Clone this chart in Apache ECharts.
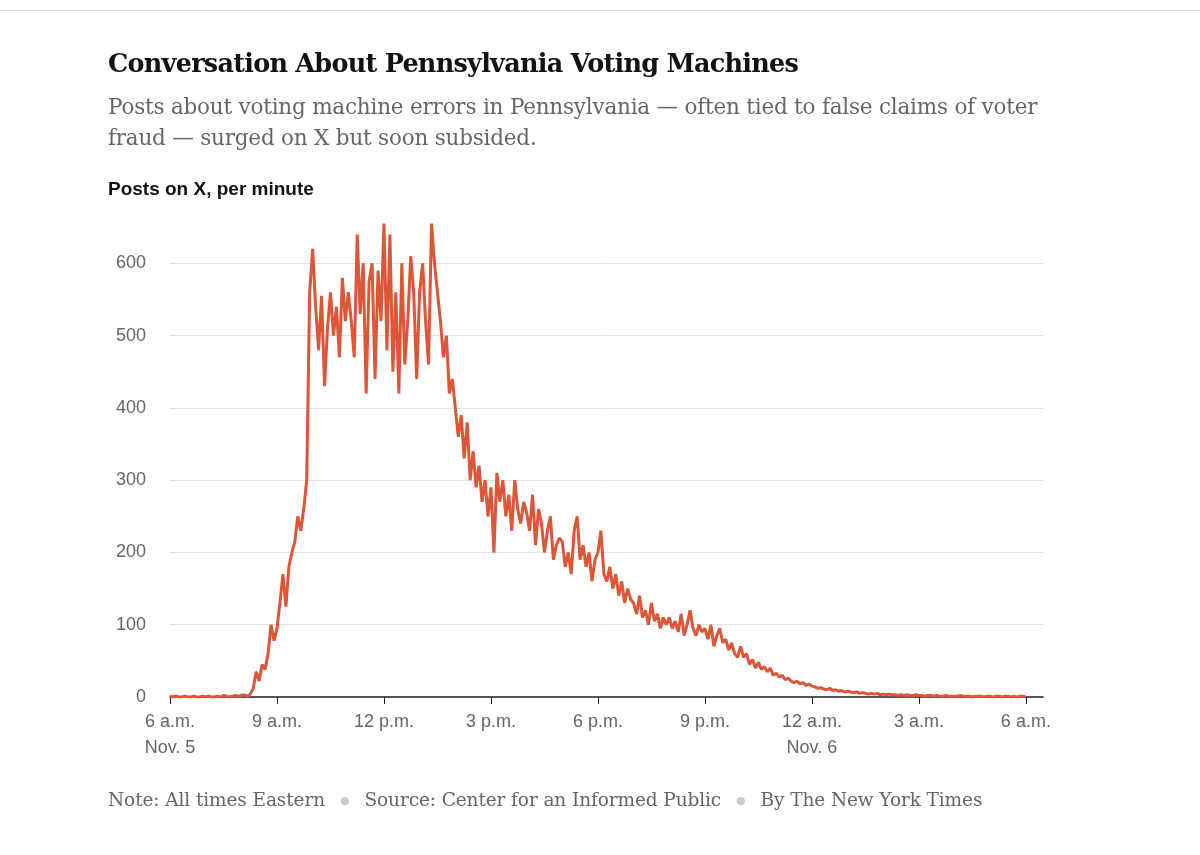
<!DOCTYPE html>
<html><head><meta charset="utf-8">
<script src="https://cdn.jsdelivr.net/npm/echarts@6/dist/echarts.min.js"></script>
<style>
body{margin:0;background:#fff;width:1200px;height:855px;position:relative;overflow:hidden}
#topline{position:absolute;left:0;top:10px;width:1200px;height:1px;background:#ddd}
#title{position:absolute;left:108px;top:48px;font:bold 25.5px "DejaVu Serif",serif;color:#121212;letter-spacing:-0.75px}
#sub{position:absolute;left:108px;top:91px;width:940px;font:21.5px "DejaVu Serif",serif;color:#666;line-height:31px;letter-spacing:-0.2px}
#ylab{position:absolute;left:108px;top:178px;font:bold 19px "Liberation Sans",Arial,sans-serif;color:#121212}
#foot{position:absolute;left:108px;top:789px;font:18.5px "DejaVu Serif",serif;color:#666;letter-spacing:-0.1px}
#foot .d{color:#ccc;margin:0 15px;font-size:11px;vertical-align:2px}
#c{position:absolute;left:0;top:0;width:1200px;height:855px}
</style></head><body>
<div id="topline"></div>
<div id="c"></div>
<div id="title">Conversation About Pennsylvania Voting Machines</div>
<div id="sub">Posts about voting machine errors in Pennsylvania — often tied to false claims of voter fraud — surged on X but soon subsided.</div>
<div id="ylab">Posts on X, per minute</div>
<div id="foot">Note: All times Eastern<span class="d">●</span>Source: Center for an Informed Public<span class="d">●</span>By The New York Times</div>
<script>
// posts per minute, sampled every 5 minutes, one row per hour starting 6 a.m. Nov. 5
const h06=[1,0,1,0,0,1,0,0,1,0,0,1];
const h07=[0,1,0,0,1,0,2,1,0,1,2,1];
const h08=[2,3,1,4,12,35,22,45,38,60,100,78];
const h09=[95,130,170,125,180,200,215,250,230,260,300,560];
const h10=[620,540,480,555,430,510,560,500,540,470,580,520];
const h11=[560,520,470,640,530,600,420,575,600,440,590,520];
const h12=[655,480,640,450,560,420,600,460,520,610,560,440];
const h13=[560,600,520,460,655,600,560,520,470,500,420,440];
const h14=[400,360,390,330,380,300,340,290,320,270,300,250];
const h15=[290,200,310,270,300,250,280,230,300,260,240,270];
const h16=[255,230,280,210,260,240,200,230,250,190,210,220];
const h17=[215,180,200,170,230,250,190,210,180,200,160,190];
const h18=[200,230,170,160,180,150,170,140,160,130,150,135];
const h19=[130,115,140,110,120,100,130,105,115,95,110,100];
const h20=[110,95,105,90,115,85,100,120,95,85,100,90];
const h21=[95,80,100,70,85,95,75,80,65,75,60,55];
const h22=[70,55,60,45,52,40,48,38,42,35,40,30];
const h23=[33,28,30,24,26,22,20,22,18,20,16,18];
const h00=[15,14,12,13,11,10,12,9,10,8,9,7];
const h01=[8,7,6,7,5,6,5,4,5,4,5,3];
const h02=[4,3,4,3,3,2,3,2,3,2,2,3];
const h03=[2,2,1,2,2,1,2,1,1,2,1,1];
const h04=[1,1,2,1,1,1,0,1,1,1,0,1];
const h05=[1,0,1,1,0,1,1,0,1,0,1,1,0];
const yTicks=[0,100,200,300,400,500,600];
const xTickLabels={0:'6 a.m.\nNov. 5',3:'9 a.m.',6:'12 p.m.',9:'3 p.m.',12:'6 p.m.',15:'9 p.m.',18:'12 a.m.\nNov. 6',21:'3 a.m.',24:'6 a.m.'};
const series=[].concat(h06,h07,h08,h09,h10,h11,h12,h13,h14,h15,h16,h17,h18,h19,h20,h21,h22,h23,h00,h01,h02,h03,h04,h05);
const data=series.map((v,i)=>[i*5/60,v]);
const chart=echarts.init(document.getElementById('c'));
chart.setOption({
  animation:false,
  grid:{left:170,right:157,top:220,bottom:158,containLabel:false},
  xAxis:{type:'value',min:0,max:24.48,interval:3,
    axisLine:{show:true,lineStyle:{color:'#222',width:1.5}},
    axisTick:{show:true,length:7,lineStyle:{color:'#222'}},
    splitLine:{show:false},
    axisLabel:{showMaxLabel:false,color:'#666',fontSize:18,fontFamily:'Liberation Sans, Arial',lineHeight:26,margin:12,
      formatter:v=>xTickLabels[Math.round(v)]||''}},
  yAxis:{type:'value',min:0,max:660,interval:100,
    axisLine:{show:false},axisTick:{show:false},
    splitLine:{showMaxLine:false,lineStyle:{color:'#e2e2e2'}},
    axisLabel:{showMaxLabel:false,color:'#666',fontSize:18,fontFamily:'Liberation Sans, Arial',margin:24,
      formatter:v=>yTicks.includes(v)?String(v):''}},
  series:[{type:'line',data:data,showSymbol:false,lineStyle:{color:'#dc5637',width:3},z:3}]
});
</script></body></html>
